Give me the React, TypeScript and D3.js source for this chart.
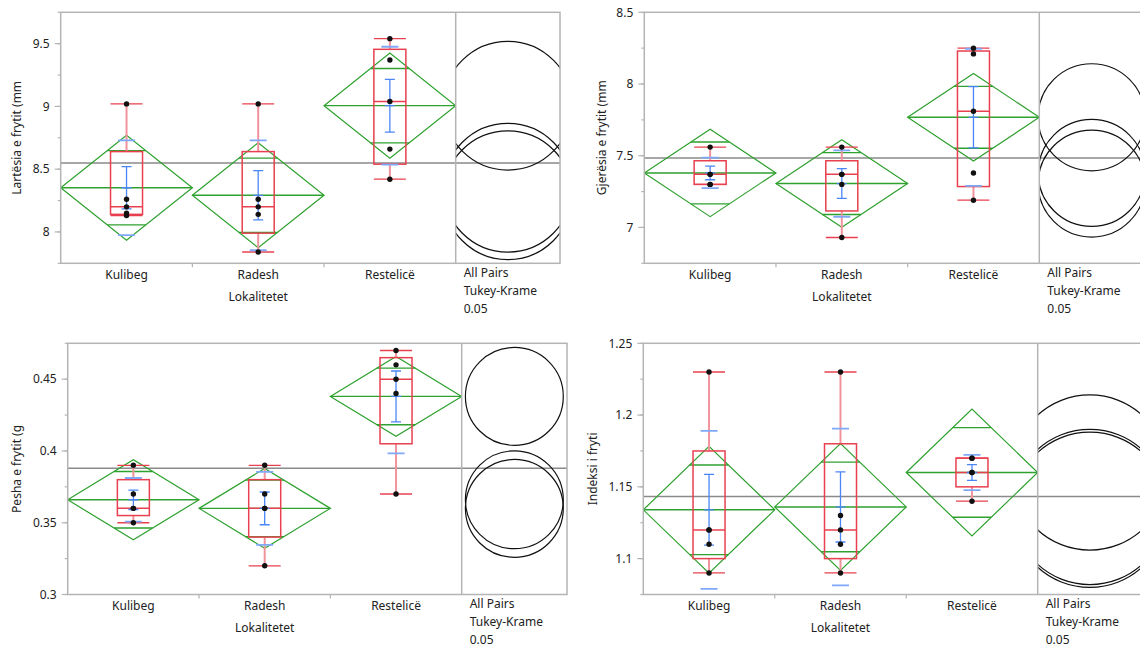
import React, { useEffect, useRef } from 'react'
import * as d3 from 'd3'

const groups = ['Kulibeg', 'Radesh', 'Restelicë']

// Lartësia e frytit (mm)
const lartesiaKulibeg = [9.02, 8.26, 8.2, 8.15, 8.13]
const lartesiaRadesh = [9.02, 8.26, 8.2, 8.14, 7.84]
const lartesiaRestelice = [9.54, 9.37, 9.04, 8.66, 8.42]

// Gjerësia e frytit (mm)
const gjeresiaKulibeg = [7.56, 7.37, 7.37, 7.3, 7.3]
const gjeresiaRadesh = [7.56, 7.37, 7.37, 7.3, 6.93]
const gjeresiaRestelice = [8.25, 8.21, 7.81, 7.38, 7.19]

// Pesha e frytit (g)
const peshaKulibeg = [0.39, 0.37, 0.36, 0.36, 0.35]
const peshaRadesh = [0.39, 0.37, 0.36, 0.36, 0.32]
const peshaRestelice = [0.47, 0.46, 0.45, 0.44, 0.37]

// Indeksi i frytit
const indeksiKulibeg = [1.23, 1.12, 1.12, 1.11, 1.09]
const indeksiRadesh = [1.23, 1.13, 1.12, 1.11, 1.09]
const indeksiRestelice = [1.17, 1.17, 1.16, 1.16, 1.14]

const lartesiaTicks = [8, 8.5, 9, 9.5]
const gjeresiaTicks = [7, 7.5, 8, 8.5]
const peshaTicks = [0.3, 0.35, 0.4, 0.45]
const indeksiTicks = [1.1, 1.15, 1.2, 1.25]

const compareLabels = ['All Pairs', 'Tukey-Krame', '0.05']

// t(0.975, df=12) and Tukey q(0.05, 3, 12)/sqrt(2)
const T_CRIT = 2.179
const Q_CRIT = 3.773 / Math.SQRT2

const FONT = '"Noto Sans", "Open Sans", sans-serif'

const panels = [
  {
    id: 'p1', title: 'Lartësia e frytit (mm', data: [lartesiaKulibeg, lartesiaRadesh, lartesiaRestelice],
    domain: [7.75, 9.75], ticks: lartesiaTicks, minor: 0.25,
    left: 60.7, top: 12.3, bottom: 263.3, divider: 455.7, right: 560, titleX: 17,
  },
  {
    id: 'p2', title: 'Gjerësia e frytit (mm', data: [gjeresiaKulibeg, gjeresiaRadesh, gjeresiaRestelice],
    domain: [6.75, 8.5], ticks: gjeresiaTicks, minor: 0.25,
    left: 644.3, top: 12.3, bottom: 263.3, divider: 1039.3, right: 1144, titleX: 601.7,
  },
  {
    id: 'p3', title: 'Pesha e frytit (g', data: [peshaKulibeg, peshaRadesh, peshaRestelice],
    domain: [0.3, 0.475], ticks: peshaTicks, minor: 0.025,
    left: 67.7, top: 343.3, bottom: 594.5, divider: 461.7, right: 567, titleX: 17,
  },
  {
    id: 'p4', title: 'Indeksi i fryti', data: [indeksiKulibeg, indeksiRadesh, indeksiRestelice],
    domain: [1.075, 1.25], ticks: indeksiTicks, minor: 0.025,
    left: 643.3, top: 343.3, bottom: 594.5, divider: 1037.7, right: 1142, titleX: 592.3,
  },
]

// quantile the way JMP does it: position (n+1)p
function quantile(sorted: number[], p: number) {
  const h = (sorted.length + 1) * p
  const lo = Math.floor(h)
  if (lo < 1) return sorted[0]
  if (lo >= sorted.length) return sorted[sorted.length - 1]
  return sorted[lo - 1] + (h - lo) * (sorted[lo] - sorted[lo - 1])
}

function groupStats(values: number[]) {
  const s = values.slice().sort(d3.ascending)
  const q1 = quantile(s, 0.25), q3 = quantile(s, 0.75)
  const iqr = q3 - q1
  const mean = d3.mean(s)!
  return {
    n: s.length,
    mean,
    sd: d3.deviation(s)!,
    q1, q3, median: quantile(s, 0.5),
    lo: d3.min(s.filter(v => v >= q1 - 1.5 * iqr))!,
    hi: d3.max(s.filter(v => v <= q3 + 1.5 * iqr))!,
    ss: d3.sum(s, v => (v - mean) ** 2),
  }
}

const RED = '#e8404f'
const PINK = '#f2939c'
const GREEN = '#2ea12e'
const BLUE = '#4a86f7'
const LIGHTBLUE = '#7fa8f8'
const FRAME = '#b4b4b4'

function drawPanel(svg: d3.Selection<SVGSVGElement, unknown, null, undefined>, p: typeof panels[0]) {
  const y = d3.scaleLinear().domain(p.domain).range([p.bottom, p.top])
  const x = d3.scaleBand().domain(groups).range([p.left, p.divider])
  const stats = p.data.map(groupStats)
  const all = p.data.flat()
  const grand = d3.mean(all)!
  const dfe = all.length - groups.length
  const sp = Math.sqrt(d3.sum(stats, s => s.ss) / dfe)

  const defs = svg.append('defs')
  defs.append('clipPath').attr('id', p.id + 'plot')
    .append('rect').attr('x', p.left).attr('y', p.top)
    .attr('width', p.divider - p.left).attr('height', p.bottom - p.top)
  defs.append('clipPath').attr('id', p.id + 'circ')
    .append('rect').attr('x', p.divider).attr('y', p.top)
    .attr('width', p.right - p.divider).attr('height', p.bottom - p.top)

  const g = svg.append('g')

  // grand mean
  g.append('line')
    .attr('x1', p.left).attr('x2', p.right)
    .attr('y1', y(grand)).attr('y2', y(grand))
    .attr('stroke', '#8a8a8a').attr('stroke-width', 1.5)

  const plot = g.append('g').attr('clip-path', `url(#${p.id}plot)`)
  const hw = x.bandwidth() / 2
  const boxW = 16

  groups.forEach((name, i) => {
    const s = stats[i]
    const cx = x(name)! + hw
    const ci = T_CRIT * sp / Math.sqrt(s.n)
    const se = s.sd / Math.sqrt(s.n)
    const ym = y(s.mean)

    // means diamond
    plot.append('path')
      .attr('d', `M${cx - hw},${ym}L${cx},${y(s.mean + ci)}L${cx + hw},${ym}L${cx},${y(s.mean - ci)}Z`)
      .attr('fill', 'none').attr('stroke', GREEN).attr('stroke-width', 1.2)
    plot.append('line').attr('x1', cx - hw).attr('x2', cx + hw).attr('y1', ym).attr('y2', ym)
      .attr('stroke', GREEN).attr('stroke-width', 1.4)
    const ow = hw * (1 - Math.SQRT1_2)
    ;[1, -1].forEach(sgn => {
      const yy = y(s.mean + sgn * ci * Math.SQRT1_2)
      plot.append('line').attr('x1', cx - ow).attr('x2', cx + ow).attr('y1', yy).attr('y2', yy)
        .attr('stroke', GREEN).attr('stroke-width', 1.4)
    })

    // outlier box plot
    plot.append('line').attr('x1', cx).attr('x2', cx).attr('y1', y(s.q3)).attr('y2', y(s.hi))
      .attr('stroke', PINK).attr('stroke-width', 2)
    plot.append('line').attr('x1', cx).attr('x2', cx).attr('y1', y(s.q1)).attr('y2', y(s.lo))
      .attr('stroke', PINK).attr('stroke-width', 2)
    ;[s.hi, s.lo].forEach(v => {
      plot.append('line').attr('x1', cx - boxW).attr('x2', cx + boxW).attr('y1', y(v)).attr('y2', y(v))
        .attr('stroke', RED).attr('stroke-width', 1.3)
    })
    plot.append('rect')
      .attr('x', cx - boxW).attr('width', boxW * 2)
      .attr('y', y(s.q3)).attr('height', y(s.q1) - y(s.q3))
      .attr('fill', 'none').attr('stroke', RED).attr('stroke-width', 1.5)
    plot.append('line').attr('x1', cx - boxW).attr('x2', cx + boxW)
      .attr('y1', y(s.median)).attr('y2', y(s.median))
      .attr('stroke', RED).attr('stroke-width', 1.5)

    // std dev lines and mean error bars
    ;[1, -1].forEach(sgn => {
      const yy = y(s.mean + sgn * s.sd)
      plot.append('line').attr('x1', cx - 8.5).attr('x2', cx + 8.5).attr('y1', yy).attr('y2', yy)
        .attr('stroke', LIGHTBLUE).attr('stroke-width', 1.8)
    })
    plot.append('line').attr('x1', cx).attr('x2', cx)
      .attr('y1', y(s.mean - se)).attr('y2', y(s.mean + se))
      .attr('stroke', BLUE).attr('stroke-width', 1.3)
    ;[s.mean - se, s.mean, s.mean + se].forEach(v => {
      plot.append('line').attr('x1', cx - 5).attr('x2', cx + 5).attr('y1', y(v)).attr('y2', y(v))
        .attr('stroke', BLUE).attr('stroke-width', 1.3)
    })

    // points
    plot.selectAll(null).data(p.data[i]).enter().append('circle')
      .attr('cx', cx).attr('cy', d => y(d)).attr('r', 2.7).attr('fill', '#111')
  })

  // comparison circles
  const ccx = (p.divider + p.right) / 2
  const circ = g.append('g').attr('clip-path', `url(#${p.id}circ)`)
  stats.forEach(s => {
    const r = Q_CRIT * sp / Math.sqrt(s.n)
    circ.append('circle')
      .attr('cx', ccx).attr('cy', y(s.mean))
      .attr('r', y(s.mean - r) - y(s.mean))
      .attr('fill', 'none').attr('stroke', '#111').attr('stroke-width', 1.2)
  })

  // frame
  g.append('rect').attr('x', p.left).attr('y', p.top)
    .attr('width', p.right - p.left).attr('height', p.bottom - p.top)
    .attr('fill', 'none').attr('stroke', FRAME).attr('stroke-width', 1.5)
  g.append('line').attr('x1', p.divider).attr('x2', p.divider).attr('y1', p.top).attr('y2', p.bottom)
    .attr('stroke', FRAME).attr('stroke-width', 1.5)

  // y axis
  const minor = d3.range(p.domain[0], p.domain[1] + 1e-9, p.minor)
  g.selectAll(null).data(minor).enter().append('line')
    .attr('x1', p.left - 3).attr('x2', p.left).attr('y1', d => y(d)).attr('y2', d => y(d))
    .attr('stroke', FRAME).attr('stroke-width', 1.2)
  g.selectAll(null).data(p.ticks).enter().append('line')
    .attr('x1', p.left - 6).attr('x2', p.left).attr('y1', d => y(d)).attr('y2', d => y(d))
    .attr('stroke', FRAME).attr('stroke-width', 1.2)
  g.selectAll(null).data(p.ticks).enter().append('text')
    .attr('x', p.left - 11).attr('y', d => y(d)).attr('dy', '0.35em')
    .attr('text-anchor', 'end').attr('font-size', 12).attr('font-family', FONT).attr('fill', '#222')
    .text(d => String(d))
  g.append('text')
    .attr('transform', `translate(${p.titleX},${(p.top + p.bottom) / 2}) rotate(-90)`)
    .attr('dy', '0.35em').attr('text-anchor', 'middle')
    .attr('font-size', 12).attr('font-family', FONT).attr('fill', '#222')
    .text(p.title)

  // x axis
  groups.slice(1).forEach(name => {
    g.append('line').attr('x1', x(name)!).attr('x2', x(name)!)
      .attr('y1', p.bottom).attr('y2', p.bottom + 4)
      .attr('stroke', FRAME).attr('stroke-width', 1.2)
  })
  g.selectAll(null).data(groups).enter().append('text')
    .attr('x', d => x(d)! + hw).attr('y', p.bottom + 11).attr('dy', '0.35em')
    .attr('text-anchor', 'middle').attr('font-size', 12).attr('font-family', FONT).attr('fill', '#222')
    .text(d => d)
  g.append('text')
    .attr('x', (p.left + p.divider) / 2).attr('y', p.bottom + 33).attr('dy', '0.35em')
    .attr('text-anchor', 'middle').attr('font-size', 12).attr('font-family', FONT).attr('fill', '#222')
    .text('Lokalitetet')
  g.selectAll(null).data(compareLabels).enter().append('text')
    .attr('x', p.divider + 8).attr('y', (d, i) => p.bottom + 9 + i * 18).attr('dy', '0.35em')
    .attr('font-size', 12).attr('font-family', FONT).attr('fill', '#222')
    .text(d => d)
}

export default function App() {
  const ref = useRef<SVGSVGElement>(null)

  useEffect(() => {
    const svg = d3.select(ref.current!)
    svg.selectAll('*').remove()
    panels.forEach(p => drawPanel(svg, p))
  }, [])

  return (
    <svg ref={ref} width={1140} height={647}
      style={{ position: 'absolute', left: 0, top: 0, background: '#fff' }} />
  )
}
